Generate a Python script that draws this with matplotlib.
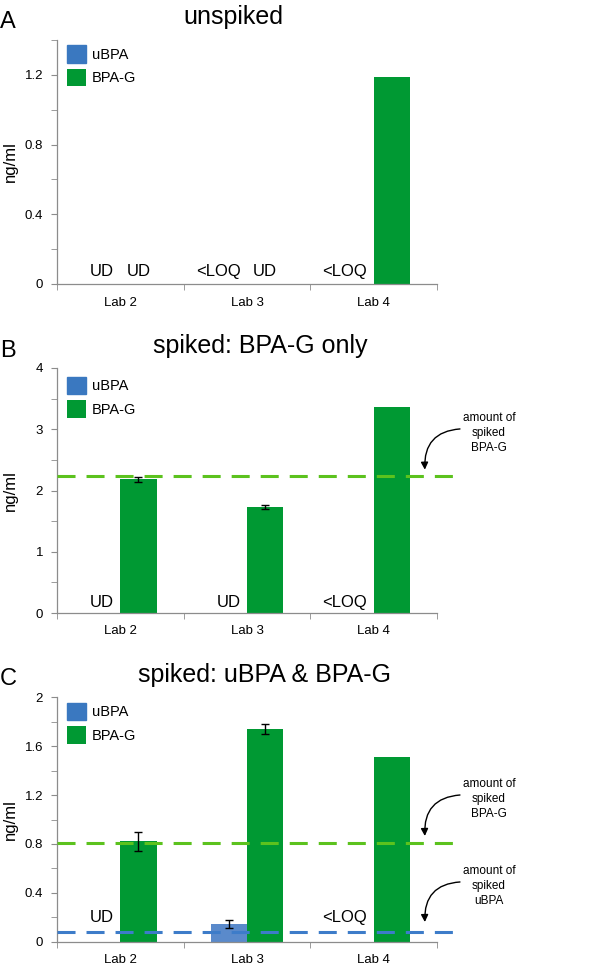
import numpy as np
import matplotlib
matplotlib.use('Agg')
import matplotlib.pyplot as plt
from matplotlib.ticker import MultipleLocator, FixedLocator

plt.rcParams['font.family'] = ['Liberation Sans', 'DejaVu Sans']

# Data
categories = ['Lab 2', 'Lab 3', 'Lab 4']
series_names = ['uBPA', 'BPA-G']

# Panel A: unspiked
a_ubpa = [np.nan, np.nan, np.nan]
a_ubpa_err = [0, 0, 0]
a_ubpa_txt = ['UD', '<LOQ', '<LOQ']
a_bpag = [np.nan, np.nan, 1.19]
a_bpag_err = [0, 0, 0]
a_bpag_txt = ['UD', 'UD', None]

# Panel B: spiked BPA-G only
b_ubpa = [np.nan, np.nan, np.nan]
b_ubpa_err = [0, 0, 0]
b_ubpa_txt = ['UD', 'UD', '<LOQ']
b_bpag = [2.18, 1.73, 3.37]
b_bpag_err = [0.04, 0.03, 0]
b_bpag_txt = [None, None, None]
b_spike_bpag = 2.24

# Panel C: spiked uBPA & BPA-G
c_ubpa = [np.nan, 0.145, np.nan]
c_ubpa_err = [0, 0.035, 0]
c_ubpa_txt = ['UD', None, '<LOQ']
c_bpag = [0.82, 1.74, 1.51]
c_bpag_err = [0.077, 0.04, 0]
c_bpag_txt = [None, None, None]
c_spike_bpag = 0.805
c_spike_ubpa = 0.08

GREEN = '#009933'
BLUE_LEG = '#3A78C0'
BLUE_BAR = '#5A8ACB'
GREEN_DASH = '#5CC21E'
BLUE_DASH = '#3D7CC9'
GREY = '#8c8c8c'

fig = plt.figure(figsize=(6, 9.67), dpi=100)

W, H = 600, 967
def axes_px(left, right, top, bottom):
    return [left / W, 1 - bottom / H, (right - left) / W, (bottom - top) / H]

ax_a = fig.add_axes(axes_px(57, 437, 40, 284))
ax_b = fig.add_axes(axes_px(57, 437, 368, 613))
ax_c = fig.add_axes(axes_px(57, 437, 697.3, 941.7))

w = 1 / 3.5
x = np.arange(len(categories))


def draw_panel(ax, ubpa, ubpa_err, ubpa_txt, bpag, bpag_err, bpag_txt,
               ymax, major, minor, txt_off, leg_pad):
    ax.bar(x - w / 2, np.nan_to_num(ubpa), w, color=BLUE_BAR, label=series_names[0])
    ax.bar(x + w / 2, np.nan_to_num(bpag), w, color=GREEN, label=series_names[1])
    for xi, v, e in zip(x - w / 2, ubpa, ubpa_err):
        if e > 0:
            ax.errorbar(xi, v, yerr=e, color='black', lw=1, capsize=3, capthick=1)
    for xi, v, e in zip(x + w / 2, bpag, bpag_err):
        if e > 0:
            ax.errorbar(xi, v, yerr=e, color='black', lw=1, capsize=3, capthick=1)
    for xi, t in zip(x, ubpa_txt):
        if t:
            ax.annotate(t, (xi - 0.05, 0), xytext=(0, txt_off), textcoords='offset points',
                        ha='right', va='baseline', fontsize=12)
    for xi, t in zip(x, bpag_txt):
        if t:
            ax.annotate(t, (xi + w / 2, 0), xytext=(0, txt_off), textcoords='offset points',
                        ha='center', va='baseline', fontsize=12)

    ax.set_xlim(-0.5, 2.5)
    ax.set_ylim(0, ymax)
    ax.set_xticks(x)
    ax.set_xticklabels(categories, fontsize=9.5)
    ax.xaxis.set_minor_locator(FixedLocator([-0.5, 0.5, 1.5, 2.5]))
    ax.tick_params(axis='x', which='major', length=0, pad=9)
    ax.tick_params(axis='x', which='minor', length=4, color=GREY, direction='out')
    ax.yaxis.set_major_locator(MultipleLocator(major))
    ax.yaxis.set_minor_locator(MultipleLocator(minor))
    ax.tick_params(axis='y', which='both', length=4, color=GREY, direction='out',
                   labelsize=9.5, pad=6)
    ax.set_yticks(ax.get_yticks())
    ax.set_yticklabels([f'{round(t, 2):g}' for t in ax.get_yticks()])
    ax.set_ylim(0, ymax)
    for s in ['top', 'right']:
        ax.spines[s].set_visible(False)
    for s in ['left', 'bottom']:
        ax.spines[s].set_color(GREY)
        ax.spines[s].set_linewidth(0.9)
    ax.set_ylabel('ng/ml', fontsize=12)
    ax.yaxis.set_label_coords(-0.103, 0.5)

    leg = ax.legend(loc='upper left', bbox_to_anchor=(0.026, 1 - leg_pad), frameon=False,
                    fontsize=10.5, handlelength=1.3, handleheight=1.5, labelspacing=0.4,
                    handletextpad=0.4, borderpad=0, borderaxespad=0)
    leg.legend_handles[0].set_color(BLUE_LEG)


draw_panel(ax_a, a_ubpa, a_ubpa_err, a_ubpa_txt, a_bpag, a_bpag_err, a_bpag_txt,
           1.4, 0.4, 0.2, 6, 0.02)
draw_panel(ax_b, b_ubpa, b_ubpa_err, b_ubpa_txt, b_bpag, b_bpag_err, b_bpag_txt,
           4, 1, 0.5, 4.5, 0.035)
draw_panel(ax_c, c_ubpa, c_ubpa_err, c_ubpa_txt, c_bpag, c_bpag_err, c_bpag_txt,
           2, 0.4, 0.2, 14, 0.022)


def spike_line(ax, value, color, text, text_y, tip_y):
    tr = ax.get_yaxis_transform()
    ax.plot([0, 1.055], [value, value], transform=tr, color=color, lw=2.2,
            linestyle=(0, (5.9, 3.6)), clip_on=False, zorder=3)
    ax.annotate(text, xy=(0.968, tip_y), xycoords=tr, xytext=(1.137, text_y), textcoords=tr,
                ha='center', va='center', fontsize=8.5, linespacing=1.3,
                arrowprops=dict(arrowstyle='-|>,head_length=0.5,head_width=0.25', color='black',
                                lw=1, connectionstyle='arc3,rad=0.5', relpos=(0, 0.6),
                                shrinkA=0, shrinkB=0),
                annotation_clip=False)


spike_line(ax_b, b_spike_bpag, GREEN_DASH, 'amount of\nspiked\nBPA-G', 2.94, 2.34)
spike_line(ax_c, c_spike_bpag, GREEN_DASH, 'amount of\nspiked\nBPA-G', 1.168, 0.865)
spike_line(ax_c, c_spike_ubpa, BLUE_DASH, 'amount of\nspiked\nuBPA', 0.456, 0.161)

# titles and panel letters
titles = ['unspiked', 'spiked: BPA-G only', 'spiked: uBPA & BPA-G']
letters = ['A', 'B', 'C']
title_xy = [(233, 24), (260, 353), (264, 682)]
letter_y = [28, 357, 685]
for t, (tx, ty), l, ly in zip(titles, title_xy, letters, letter_y):
    fig.text(tx / W, 1 - ty / H, t, ha='center', va='baseline', fontsize=18)
    fig.text(0 / W, 1 - ly / H, l, ha='left', va='baseline', fontsize=17)

fig.savefig('out.png', dpi=100)
